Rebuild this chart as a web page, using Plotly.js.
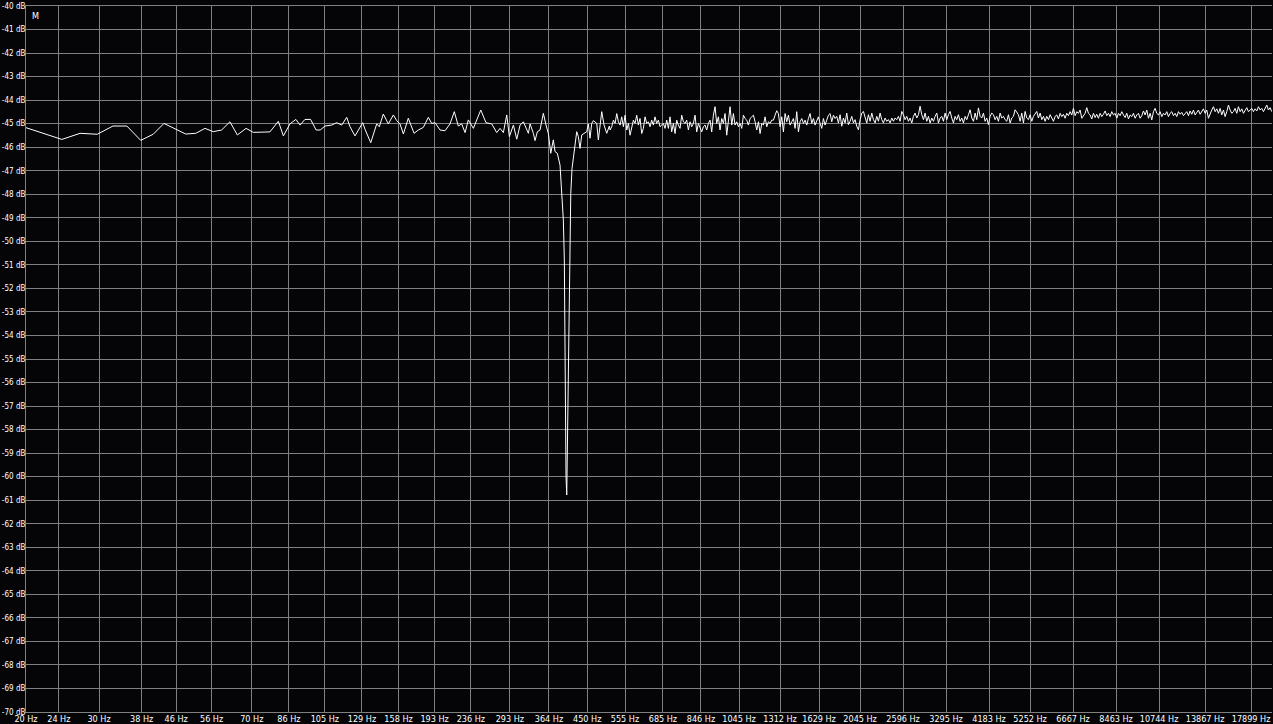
<!DOCTYPE html>
<html>
<head>
<meta charset="utf-8">
<script src="https://cdn.plot.ly/plotly-3.0.1.min.js"></script>
<style>
  html, body { margin: 0; padding: 0; background: #050407; }
  #spectrum { width: 1273px; height: 724px; }
</style>
</head>
<body>
<div id="spectrum"></div>
<script>
// tick labels of the analyser
var HZ_TICKS = [20, 24, 30, 38, 46, 56, 70, 86, 105, 129, 158, 193, 236, 293, 364, 450, 555, 685,
                846, 1045, 1312, 1629, 2045, 2596, 3295, 4183, 5252, 6667, 8463, 10744, 13867, 17899];
var DB_TICKS = [-40, -41, -42, -43, -44, -45, -46, -47, -48, -49, -50, -51, -52, -53, -54, -55,
                -56, -57, -58, -59, -60, -61, -62, -63, -64, -65, -66, -67, -68, -69, -70];

// 20 - 325 Hz
var lowFreq = [20, 24.4, 27.0, 29.7, 32.4, 35.0, 37.8, 40.5, 43.0, 45.7, 48.5, 51.3, 54.0, 56.5, 59.2,
               62.0, 64.6, 67.8, 70.6, 74.0, 77.4, 81.1, 83.4, 86.5, 89.4, 91.5, 94.0, 97.0, 100.0, 102.3,
               105.1, 109.0, 112.1, 115.3, 118.5, 120.7, 124.1, 129.5, 131.2, 135.4, 140.0, 142.0, 145.2,
               149.3, 153.5, 156.4, 159.3, 162.3, 166.8, 172.2, 176.3, 181.3, 186.4, 189.9, 193.5, 198.9,
               204.5, 210.2, 215.3, 220.1, 224.3, 228.5, 232.7, 239.3, 243.8, 249.3, 256.7, 265.0, 272.4,
               277.5, 282.6, 288.0, 292.2, 298.8, 304.4, 310.1, 315.8, 324.7];
var lowDb = [-45.17, -45.67, -45.41, -45.45, -45.10, -45.10, -45.71, -45.45, -44.99, -45.21, -45.44, -45.41,
             -45.20, -45.34, -45.27, -44.92, -45.48, -45.20, -45.37, -45.36, -45.35, -44.90, -45.52, -45.01,
             -44.82, -45.06, -44.82, -44.82, -45.27, -45.27, -45.10, -45.06, -44.96, -45.06, -44.73, -45.13,
             -45.52, -44.96, -45.24, -45.81, -45.01, -45.13, -44.59, -45.01, -44.63, -44.87, -45.01, -45.44,
             -44.77, -45.41, -45.27, -45.16, -44.73, -44.99, -44.96, -45.27, -45.30, -45.01, -44.49, -45.10,
             -45.01, -45.38, -44.84, -45.20, -44.84, -44.42, -44.96, -45.01, -45.38, -45.20, -45.38, -44.63,
             -45.55, -45.06, -45.66, -45.06, -44.92, -45.41];

// the notch around 400 Hz
var notchFreq = [327.8, 333.8, 336.9, 341.3, 346.4, 352.8, 358.1, 362.7, 367.6, 372.9, 376.5, 381.3, 387.0,
                 389.2, 392.0, 394.2, 396.4, 397.9, 400.1, 401.7, 403.0, 405.3, 407.6, 409.2, 410.8, 413.7,
                 416.8, 420.6, 424.6, 428.4, 432.5, 436.6, 442.2, 448.9, 452.9, 457.1, 461.4, 465.6, 474.5,
                 478.7, 487.8, 494.1, 501.5, 508.8];
var notchDb = [-45.01, -45.41, -45.72, -45.34, -45.27, -44.56, -45.06, -45.41, -46.26, -45.69, -46.19, -46.26,
               -46.76, -47.68, -48.53, -49.09, -50.79, -55.75, -60.00, -60.78, -59.01, -55.61, -52.14, -49.59,
               -47.96, -46.90, -46.40, -45.84, -45.34, -45.55, -46.05, -45.48, -45.41, -45.34, -45.01, -45.62,
               -44.99, -44.87, -44.99, -45.69, -44.49, -45.06, -45.41, -45.10];

// 510 Hz - 1.8 kHz
var midFreq = [510.9, 515.6, 520.4, 525.3, 530.2, 535.1, 540.0, 545.0, 550.1, 555.2, 560.4, 565.6, 570.8,
               576.1, 581.4, 586.8, 592.3, 597.8, 603.3, 608.9, 614.6, 620.3, 626.1, 631.9, 637.7, 643.6,
               649.6, 655.6, 661.7, 667.9, 674.1, 680.4, 686.7, 693.0, 699.5, 706.0, 712.5, 719.1, 725.8,
               732.6, 739.4, 746.3, 753.2, 760.2, 767.3, 774.4, 781.6, 788.9, 796.2, 803.6, 811.1, 818.6,
               826.2, 833.9, 841.6, 849.4, 857.3, 865.3, 873.3, 881.4, 889.6, 897.9, 906.2, 914.6, 923.1,
               931.7, 940.4, 949.1, 957.9, 966.8, 975.9, 985.0, 994.2, 1003.4, 1012.7, 1022.1, 1031.6, 1041.2,
               1050.9, 1060.7, 1070.5, 1080.4, 1090.5, 1100.6, 1110.9, 1121.2, 1131.6, 1142.1, 1152.7, 1163.5,
               1174.3, 1185.2, 1196.2, 1207.3, 1218.5, 1229.8, 1241.2, 1252.8, 1264.4, 1276.2, 1288.0, 1300.0,
               1312.1, 1324.3, 1336.6, 1349.0, 1361.6, 1374.2, 1386.9, 1399.8, 1412.8, 1426.0, 1439.2, 1452.6,
               1466.1, 1479.7, 1493.5, 1507.3, 1521.3, 1535.4, 1549.7, 1564.1, 1578.6, 1593.3, 1608.1, 1623.1,
               1638.2, 1653.4, 1668.7, 1684.2, 1699.9, 1715.7, 1731.6, 1747.7, 1764.0, 1780.3];
var midDb = [-45.27, -45.13, -44.85, -44.99, -44.57, -44.92, -45.06, -44.71, -45.13, -44.64,
             -45.27, -44.99, -45.49, -45.13, -44.85, -44.99, -44.64, -45.06, -44.78, -45.42,
             -45.20, -44.71, -44.99, -44.92, -45.13, -44.85, -45.06, -44.71, -44.99, -44.85,
             -45.13, -45.06, -44.99, -45.20, -44.85, -45.20, -44.71, -45.35, -44.99, -45.42,
             -44.85, -45.06, -45.20, -44.64, -44.92, -44.99, -44.85, -45.27, -44.92, -45.13,
             -44.99, -44.64, -45.35, -44.99, -45.20, -45.35, -45.13, -45.06, -45.27, -44.99,
             -44.85, -45.35, -44.64, -44.28, -44.99, -44.71, -45.27, -44.78, -44.99, -44.57,
             -45.49, -44.85, -44.28, -45.06, -44.57, -45.06, -44.92, -45.13, -44.99, -45.20,
             -44.64, -44.78, -44.85, -45.06, -44.78, -44.71, -44.64, -44.92, -45.27, -44.92,
             -45.42, -44.99, -45.06, -44.71, -45.13, -44.92, -44.99, -44.85, -44.85, -44.64,
             -44.45, -44.57, -45.13, -44.71, -45.35, -44.57, -44.92, -44.64, -45.06, -44.92,
             -44.78, -45.20, -44.49, -45.35, -44.92, -44.78, -44.99, -44.85, -45.06, -44.78,
             -44.57, -44.99, -44.78, -45.06, -44.92, -44.71, -44.99, -45.20, -44.78, -45.06,
             -44.85, -44.64, -44.57, -44.92, -44.64, -44.78];

// 1.8 - 6 kHz
var upperFreq = [1796.8, 1813.5, 1830.4, 1847.4, 1864.6, 1881.9, 1899.4, 1917.0, 1934.8, 1952.8, 1971.0,
                 1989.2, 2007.7, 2026.4, 2045.2, 2064.2, 2083.4, 2102.7, 2122.3, 2142.0, 2161.9, 2182.0,
                 2202.3, 2222.7, 2243.4, 2264.2, 2285.2, 2306.5, 2327.9, 2349.5, 2371.4, 2393.4, 2415.6,
                 2438.1, 2460.7, 2483.5, 2506.6, 2529.9, 2553.4, 2577.1, 2601.1, 2625.2, 2649.6, 2674.2,
                 2699.1, 2724.2, 2749.5, 2775.0, 2800.8, 2826.8, 2853.1, 2879.6, 2906.4, 2933.3, 2960.6,
                 2988.1, 3015.9, 3043.9, 3072.2, 3100.7, 3129.5, 3158.6, 3187.9, 3217.5, 3247.4, 3277.6,
                 3308.0, 3338.8, 3369.8, 3401.1, 3432.7, 3464.6, 3496.8, 3529.3, 3562.0, 3595.1, 3628.5,
                 3662.3, 3696.3, 3730.6, 3765.3, 3800.3, 3835.6, 3871.2, 3907.2, 3943.5, 3980.1, 4017.1,
                 4054.4, 4092.0, 4130.0, 4168.4, 4207.2, 4246.2, 4285.7, 4325.5, 4365.7, 4406.2, 4447.2,
                 4488.5, 4530.2, 4572.3, 4614.8, 4657.6, 4700.9, 4744.5, 4788.6, 4833.2, 4878.1, 4923.4,
                 4969.1, 5015.3, 5061.9, 5108.9, 5156.4, 5204.3, 5252.6, 5301.4, 5350.6, 5400.4, 5450.5,
                 5501.2, 5552.3, 5603.9, 5655.9, 5708.5, 5761.5, 5815.0, 5869.1, 5923.6, 5978.6, 6034.2];
var upperDb = [-44.69, -44.97, -44.62, -45.11, -44.76, -44.97, -44.55, -45.04, -44.90, -44.69,
               -44.97, -44.83, -45.11, -45.26, -44.83, -44.55, -44.48, -44.76, -44.97, -44.62,
               -44.90, -44.55, -44.83, -44.97, -44.69, -44.90, -44.55, -44.83, -44.97, -44.76,
               -44.90, -44.83, -44.97, -44.76, -44.90, -44.76, -44.83, -44.69, -44.90, -44.48,
               -44.62, -44.83, -44.69, -44.90, -44.76, -44.97, -44.69, -44.55, -44.76, -44.62,
               -44.26, -44.62, -44.83, -44.55, -44.90, -44.69, -44.97, -44.76, -44.90, -44.69,
               -44.55, -44.97, -44.76, -44.69, -44.90, -44.55, -44.83, -44.62, -44.48, -44.76,
               -44.97, -44.69, -44.83, -44.62, -44.90, -44.76, -44.97, -44.69, -44.83, -44.62,
               -44.41, -44.76, -44.90, -44.55, -44.83, -44.33, -44.69, -44.76, -44.55, -44.90,
               -44.76, -45.04, -44.69, -44.55, -44.62, -44.83, -44.69, -44.90, -44.55, -44.76,
               -44.69, -44.83, -44.90, -44.62, -44.97, -44.76, -44.69, -44.41, -44.55, -44.62,
               -44.90, -44.55, -44.97, -44.48, -44.76, -44.83, -44.62, -44.90, -44.69, -44.55,
               -44.48, -44.76, -44.55, -44.83, -44.69, -44.90, -44.69, -44.83, -44.62, -44.76,
               -44.90, -44.69];

// 6 - 20 kHz
var topFreq = [6090.2, 6146.8, 6203.9, 6261.5, 6319.7, 6378.4, 6437.6, 6497.4, 6557.9, 6618.8, 6680.3,
               6742.4, 6805.0, 6868.2, 6932.0, 6996.4, 7061.4, 7127.0, 7193.2, 7260.0, 7327.5, 7395.5,
               7464.2, 7533.6, 7603.6, 7674.2, 7745.6, 7817.5, 7890.1, 7963.4, 8037.4, 8112.1, 8187.4,
               8263.5, 8340.3, 8417.8, 8496.0, 8574.9, 8654.6, 8735.0, 8816.1, 8898.0, 8980.7, 9064.1,
               9148.3, 9233.3, 9319.1, 9405.6, 9493.0, 9581.2, 9670.2, 9760.1, 9850.8, 9942.2, 10035,
               10128, 10222, 10317, 10413, 10509, 10607, 10706, 10805, 10905, 11007, 11109, 11212, 11316,
               11421, 11527, 11634, 11742, 11851, 11961, 12073, 12185, 12298, 12412, 12527, 12644, 12761,
               12880, 13000, 13120, 13242, 13365, 13489, 13614, 13741, 13869, 13997, 14127, 14259, 14391,
               14525, 14660, 14796, 14933, 15072, 15212, 15353, 15496, 15640, 15785, 15932, 16080, 16229,
               16380, 16532, 16686, 16841, 16997, 17155, 17315, 17475, 17638, 17802, 17967, 18134, 18303,
               18473, 18644, 18818, 18992, 19169, 19347, 19527, 19708, 19891, 20076];
var topDb = [-44.63, -44.80, -44.56, -44.70, -44.60, -44.77, -44.56, -44.66, -44.49, -44.63,
             -44.35, -44.66, -44.49, -44.56, -44.42, -44.77, -44.63, -44.56, -44.32, -44.56,
             -44.63, -44.80, -44.56, -44.74, -44.60, -44.77, -44.56, -44.70, -44.60, -44.46,
             -44.66, -44.56, -44.70, -44.49, -44.63, -44.56, -44.77, -44.56, -44.66, -44.49,
             -44.63, -44.74, -44.56, -44.80, -44.63, -44.70, -44.56, -44.77, -44.63, -44.56,
             -44.77, -44.66, -44.46, -44.63, -44.42, -44.77, -44.56, -44.84, -44.49, -44.35,
             -44.56, -44.63, -44.49, -44.70, -44.56, -44.63, -44.49, -44.70, -44.56, -44.49,
             -44.66, -44.56, -44.70, -44.49, -44.60, -44.52, -44.66, -44.56, -44.49, -44.66,
             -44.46, -44.60, -44.42, -44.63, -44.49, -44.42, -44.60, -44.46, -44.37, -44.56,
             -44.42, -44.77, -44.56, -44.42, -44.28, -44.49, -44.37, -44.56, -44.35, -44.63,
             -44.42, -44.70, -44.49, -44.21, -44.42, -44.56, -44.49, -44.35, -44.56, -44.28,
             -44.49, -44.37, -44.56, -44.42, -44.32, -44.49, -44.42, -44.35, -44.49, -44.37,
             -44.46, -44.28, -44.42, -44.35, -44.49, -44.37, -44.21, -44.42, -44.32, -44.49];

var SPECTRUM = document.getElementById('spectrum');

function drawSpectrum()
{
    var freqs = lowFreq.concat(notchFreq, midFreq, upperFreq, topFreq);
    var levels = lowDb.concat(notchDb, midDb, upperDb, topDb);

    var trace = {x: freqs,
                 y: levels,
                 type: 'scatter',
                 mode: 'lines',
                 line: {color: '#ffffff', width: 1},
                 hoverinfo: 'skip'
                };

    var family = 'DejaVu Sans Condensed, Liberation Sans, Arial, sans-serif';
    var xFont = {family: family, size: 9, color: '#ffffff'};
    var yFont = {family: family, size: 8, color: '#ffffff'};
    var grid = '#808080';

    var layout = {width: 1273,
                  height: 724,
                  paper_bgcolor: '#050407',
                  plot_bgcolor: '#050407',
                  margin: {l: 26, r: 1, t: 6, b: 12},
                  showlegend: false,
                  xaxis: {type: 'log',
                          range: [Math.log10(20), Math.log10(20100)],
                          tickvals: HZ_TICKS,
                          ticktext: HZ_TICKS.map(function (v) { return v + ' Hz'; }),
                          tickangle: 0,
                          ticks: '',
                          ticklabelstandoff: -2,
                          tickfont: xFont,
                          showgrid: true,
                          gridcolor: grid,
                          gridwidth: 1,
                          showline: true,
                          linecolor: grid,
                          linewidth: 1,
                          mirror: true,
                          zeroline: false,
                          fixedrange: true},
                  yaxis: {range: [-70, -40],
                          tickvals: DB_TICKS,
                          ticktext: DB_TICKS.map(function (v) { return v + ' dB'; }),
                          ticks: '',
                          ticklabelstandoff: -2,
                          tickfont: yFont,
                          showgrid: true,
                          gridcolor: grid,
                          gridwidth: 1,
                          showline: true,
                          linecolor: grid,
                          linewidth: 1,
                          zeroline: false,
                          fixedrange: true},
                  annotations: [{text: 'M', xref: 'paper', yref: 'paper', x: 0, y: 1,
                                 xanchor: 'left', yanchor: 'top', xshift: 4, yshift: -3,
                                 showarrow: false, font: xFont}]
                 };

    var config = {displayModeBar: false, staticPlot: true};

    Plotly.newPlot(SPECTRUM, [trace], layout, config);
}

drawSpectrum();
</script>
</body>
</html>
